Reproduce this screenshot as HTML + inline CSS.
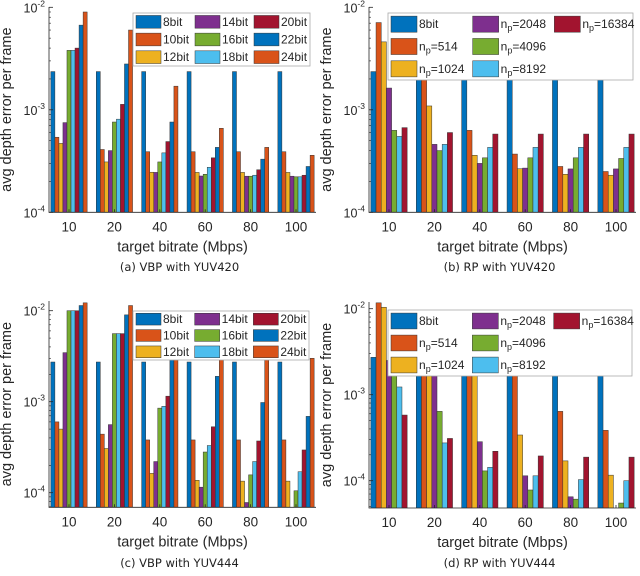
<!DOCTYPE html>
<html><head><meta charset="utf-8">
<style>
body{margin:0;background:#fff;}
svg{display:block;}
text{font-family:"Liberation Sans",sans-serif;fill:#262626;}
.cap{font-family:"DejaVu Sans","Liberation Sans",sans-serif;font-size:11.5px;fill:#222;}
</style></head>
<body>
<svg id="fig" width="640" height="576" viewBox="0 0 640 576" xmlns="http://www.w3.org/2000/svg"></svg>
<script>
const categories = ["10","20","40","60","80","100"];
const bitSeries = ["8bit","10bit","12bit","14bit","16bit","18bit","20bit","22bit","24bit"];
const npSeries = ["8bit","n_p=514","n_p=1024","n_p=2048","n_p=4096","n_p=8192","n_p=16384"];
const bitColors = ["#0072BD","#D95319","#EDB120","#7E2F8E","#77AC30","#4DBEEE","#A2142F","#0072BD","#D95319"];
const npColors = ["#0072BD","#D95319","#EDB120","#7E2F8E","#77AC30","#4DBEEE","#A2142F"];
// values[group][series]
const vbp420 = [
 [2.36e-3,5.4e-4,4.7e-4,7.5e-4,3.8e-3,3.8e-3,4.0e-3,6.7e-3,9.0e-3],
 [2.36e-3,4.1e-4,3.1e-4,4.0e-4,7.6e-4,8.1e-4,1.13e-3,2.8e-3,6.0e-3],
 [2.36e-3,3.9e-4,2.46e-4,2.45e-4,3.1e-4,3.8e-4,4.9e-4,7.6e-4,1.7e-3],
 [2.36e-3,3.9e-4,2.45e-4,2.26e-4,2.35e-4,2.75e-4,3.4e-4,4.3e-4,6.6e-4],
 [2.36e-3,3.9e-4,2.45e-4,2.25e-4,2.25e-4,2.3e-4,2.6e-4,3.3e-4,4.3e-4],
 [2.36e-3,3.9e-4,2.45e-4,2.25e-4,2.22e-4,2.22e-4,2.3e-4,2.8e-4,3.6e-4]];
const rp420 = [
 [2.36e-3,7.1e-3,4.6e-3,1.63e-3,6.3e-4,5.5e-4,6.7e-4],
 [2.36e-3,2.0e-3,1.09e-3,4.6e-4,4.0e-4,4.6e-4,6.0e-4],
 [2.36e-3,6.3e-4,3.6e-4,3.0e-4,3.4e-4,4.3e-4,5.8e-4],
 [2.36e-3,3.7e-4,2.66e-4,2.7e-4,3.4e-4,4.3e-4,5.8e-4],
 [2.36e-3,2.8e-4,2.35e-4,2.65e-4,3.4e-4,4.3e-4,5.8e-4],
 [2.36e-3,2.5e-4,2.3e-4,2.65e-4,3.35e-4,4.3e-4,5.8e-4]];
const vbp444 = [
 [2.73e-3,6.0e-4,5.0e-4,3.46e-3,1.0e-2,1.0e-2,1.0e-2,1.14e-2,1.22e-2],
 [2.73e-3,4.4e-4,3.06e-4,5.6e-4,5.6e-3,5.6e-3,5.6e-3,9.0e-3,1.14e-2],
 [2.73e-3,3.8e-4,1.63e-4,2.2e-4,8.5e-4,8.9e-4,1.15e-3,3.0e-3,3.5e-3],
 [2.73e-3,3.8e-4,1.37e-4,1.15e-4,2.8e-4,3.3e-4,5.3e-4,1.9e-3,3.0e-3],
 [2.73e-3,3.8e-4,1.34e-4,7.8e-5,1.57e-4,2.2e-4,3.7e-4,9.8e-4,3.0e-3],
 [2.73e-3,3.8e-4,1.34e-4,5.0e-5,1.05e-4,1.7e-4,2.95e-4,6.9e-4,3.0e-3]];
const rp444 = [
 [2.72e-3,1.17e-2,1.04e-2,2.5e-3,1.7e-3,1.23e-3,5.8e-4],
 [2.72e-3,2.5e-3,2.0e-3,1.8e-3,6.4e-4,2.75e-4,3.1e-4],
 [2.72e-3,2.5e-3,2.0e-3,2.84e-4,1.3e-4,1.43e-4,2.2e-4],
 [2.72e-3,2.0e-3,3.4e-4,1.14e-4,7.8e-5,1.14e-4,1.94e-4],
 [2.72e-3,6.4e-4,1.7e-4,6.5e-5,6.1e-5,1.03e-4,1.88e-4],
 [2.72e-3,3.85e-4,1.16e-4,4.0e-5,5.5e-5,1.0e-4,1.88e-4]];
const yTickExps = [-2,-3,-4];

const NS="http://www.w3.org/2000/svg";
const svg=document.getElementById('fig');
function mk(tag,attrs,parent){const e=document.createElementNS(NS,tag);for(const k in attrs)e.setAttribute(k,attrs[k]);(parent||svg).appendChild(e);return e;}

function panel(p){
  const g=mk('g',{});
  
  
  const L=p.left,R=p.left+267,T=p.top,B=p.bottom;
  const yOf=v=>p.y2+(-2-Math.log10(v))*p.dec;
  const step=45.4, cx0=L+20;
  const clip=mk('clipPath',{id:'c'+p.id},g);
  mk('rect',{x:L,y:T,width:R-L,height:B-T},clip);
  const bars=mk('g',{'clip-path':'url(#c'+p.id+')'},g);
  const n=p.series.length, gw=36.3, bw=gw/n;
  p.data.forEach((grp,gi)=>{
    grp.forEach((v,si)=>{
      const x=cx0+gi*step-gw/2+si*bw, y=yOf(v);
      const r=mk('rect',{x:x.toFixed(2),y:y.toFixed(2),width:bw.toFixed(2),height:Math.max(0,B-y+2).toFixed(2),fill:p.colors[si],stroke:'#333','stroke-width':0.5},bars);
      
      
    });
  });
  const ax=mk('path',{d:`M${L},${T}V${B}H${R}`,stroke:'#262626','stroke-width':0.8,fill:'none'},g);
  
  
  yTickExps.forEach(e=>{
    const y=yOf(Math.pow(10,e));
    if(y<T-1||y>B+1)return;
    mk('line',{x1:L,x2:L+4,y1:y,y2:y,stroke:'#262626','stroke-width':0.8},g);
    const t=mk('text',{x:L-4,y:y+5,'text-anchor':'end','font-size':12.5},g);
    t.textContent='10';
    const s=mk('tspan',{dy:-6,'font-size':8.5},t);s.textContent=String(e);
    
    
  });
  for(let e=-5;e<=-2;e++)for(let m=2;m<=9;m++){
    const y=yOf(m*Math.pow(10,e));
    if(y<T||y>B)continue;
    mk('line',{x1:L,x2:L+2,y1:y,y2:y,stroke:'#262626','stroke-width':0.6},g);
  }
  categories.forEach((c,i)=>{
    const x=cx0+i*step;
    mk('line',{x1:x,x2:x,y1:B,y2:B-3,stroke:'#262626','stroke-width':0.8},g);
    const t=mk('text',{x:x,y:B+19,'text-anchor':'middle','font-size':13.5},g);
    t.textContent=c;
    
    
  });
  const xl=mk('text',{x:(L+R)/2,y:B+39,'text-anchor':'middle','font-size':14.5},g);
  xl.textContent='target bitrate (Mbps)';
  
  
  const yl=mk('text',{x:0,y:0,'text-anchor':'middle','font-size':14.5,transform:`translate(${L-38},${(T+B)/2}) rotate(-90)`},g);
  yl.textContent='avg depth error per frame';
  
  
  const cp=mk('text',{x:(L+R)/2-3,y:p.capY,'text-anchor':'middle',class:'cap'},g);
  cp.textContent=p.caption;
  
  
  const lg=p.legend;
  const lgG=mk('g',{},g);
  
  
  mk('rect',{x:lg.x,y:lg.y,width:lg.w,height:lg.h,fill:'#fff',stroke:'#aaa','stroke-width':0.8},lgG);
  const rows=3,rh=lg.h/rows,cw=lg.w/3;
  p.series.forEach((s,i)=>{
    const col=Math.floor(i/rows),row=i%rows;
    const x=lg.x+3+col*cw, yc=lg.y+rh*(row+0.5);
    const it=mk('g',{},lgG);
    
    
    mk('rect',{x:x,y:yc-rh*0.36,width:lg.sw,height:rh*0.72,fill:p.colors[i],stroke:'#333','stroke-width':0.5},it);
    const t=mk('text',{x:x+lg.sw+2,y:yc+4,'font-size':lg.fs},it);
    if(s.startsWith('n_p')){t.textContent='n';const sub=mk('tspan',{dy:3,'font-size':lg.fs*0.75},t);sub.textContent='p';const r=mk('tspan',{dy:-3},t);r.textContent=s.slice(3);}
    else t.textContent=s;
  });
}
panel({id:'a',name:'panel-a-vbp-yuv420',left:49,top:7,bottom:212.3,y2:7.3,dec:102.5,data:vbp420,series:bitSeries,colors:bitColors,caption:'(a) VBP with YUV420',capY:271,legend:{x:133,y:13,w:177,h:53,sw:25,fs:12}});
panel({id:'b',name:'panel-b-rp-yuv420',left:369,top:7,bottom:212.3,y2:7.3,dec:102.5,data:rp420,series:npSeries,colors:npColors,caption:'(b) RP with YUV420',capY:271,legend:{x:388,y:13,w:245,h:67,sw:26,fs:12}});
panel({id:'c',name:'panel-c-vbp-yuv444',left:49,top:301,bottom:507.3,y2:310.7,dec:91,data:vbp444,series:bitSeries,colors:bitColors,caption:'(c) VBP with YUV444',capY:567,legend:{x:133,y:311,w:176,h:49,sw:25,fs:12}});
panel({id:'d',name:'panel-d-rp-yuv444',left:369,top:302,bottom:508,y2:308.7,dec:86,data:rp444,series:npSeries,colors:npColors,caption:'(d) RP with YUV444',capY:567,legend:{x:388,y:310,w:244,h:66,sw:26,fs:12}});
</script>
</body></html>
